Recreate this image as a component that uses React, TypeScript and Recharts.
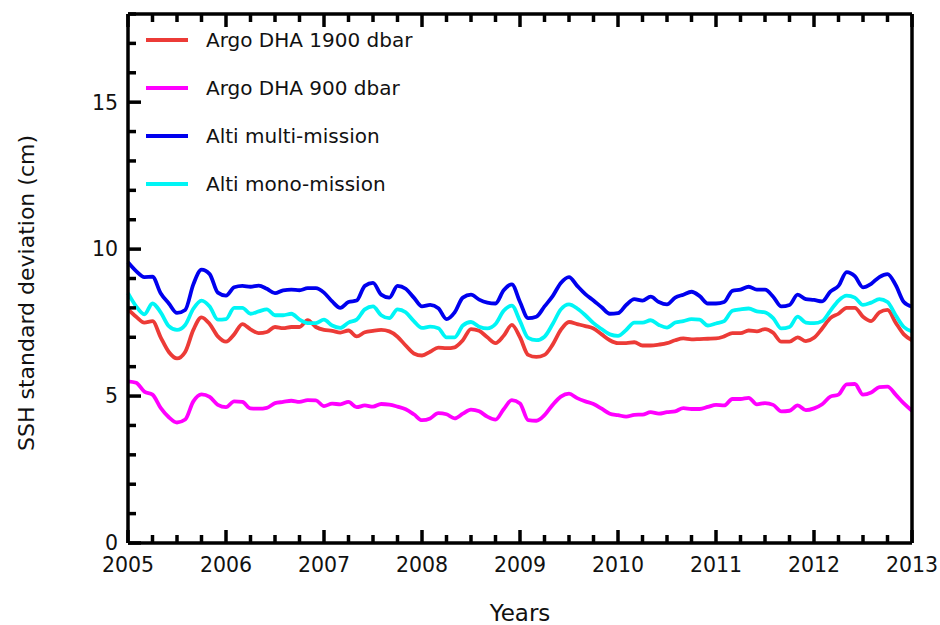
import { Label, Legend, Line, LineChart, XAxis, YAxis } from 'recharts'

const FONT = '"DejaVu Sans", sans-serif'

// monthly samples, Jan 2005 .. Jan 2013
const startYear = 2005

const argo1900 = [
  7.95, 7.7, 7.5, 7.55, 7.0, 6.5, 6.28, 6.5, 7.25, 7.68, 7.45, 7.03,
  6.85, 7.1, 7.45, 7.27, 7.14, 7.18, 7.35, 7.31, 7.35, 7.35, 7.58, 7.35,
  7.25, 7.22, 7.16, 7.23, 7.03, 7.17, 7.22, 7.25, 7.2, 7.02, 6.72, 6.45,
  6.38, 6.51, 6.65, 6.63, 6.66, 6.9, 7.28, 7.22, 7.0, 6.8, 7.05, 7.42,
  7.0, 6.4, 6.33, 6.4, 6.75, 7.25, 7.52, 7.45, 7.38, 7.3, 7.1, 6.9,
  6.8, 6.8, 6.83, 6.72, 6.72, 6.75, 6.8, 6.9, 6.96, 6.93, 6.94, 6.95,
  6.96, 7.03, 7.14, 7.14, 7.23, 7.2, 7.28, 7.15, 6.85, 6.85, 7.0, 6.87,
  6.98, 7.3, 7.65, 7.8, 8.0, 8.0, 7.7, 7.55, 7.85, 7.93, 7.5, 7.1,
  6.9,
]

const argo900 = [
  5.5, 5.45, 5.15, 5.05, 4.6, 4.28, 4.1, 4.2, 4.82, 5.06, 4.97, 4.7,
  4.62, 4.82, 4.8, 4.58, 4.57, 4.6, 4.76, 4.8, 4.84, 4.8, 4.86, 4.85,
  4.66, 4.74, 4.72, 4.8, 4.62, 4.68, 4.64, 4.73, 4.71, 4.64, 4.55, 4.38,
  4.18, 4.24, 4.42, 4.38, 4.24, 4.4, 4.54, 4.48, 4.3, 4.2, 4.55, 4.86,
  4.75, 4.18, 4.16, 4.35, 4.7, 4.98, 5.08, 4.93, 4.82, 4.73, 4.57, 4.4,
  4.35, 4.3, 4.36, 4.37, 4.45, 4.4, 4.45, 4.48, 4.59, 4.56, 4.56, 4.63,
  4.7, 4.68, 4.9, 4.9, 4.94, 4.72, 4.76, 4.7, 4.48, 4.5, 4.68, 4.52,
  4.58, 4.72, 4.98, 5.05, 5.4, 5.41, 5.05, 5.12, 5.3, 5.32, 5.05, 4.75,
  4.5,
]

const altiMulti = [
  9.55, 9.25, 9.05, 9.06, 8.5, 8.15, 7.83, 7.93, 8.8, 9.3, 9.15, 8.52,
  8.42, 8.7, 8.75, 8.72, 8.76, 8.65, 8.5, 8.6, 8.62, 8.6, 8.67, 8.67,
  8.52, 8.22, 8.0, 8.2, 8.25, 8.75, 8.85, 8.45, 8.35, 8.75, 8.65, 8.35,
  8.05, 8.1, 7.99, 7.62, 7.85, 8.35, 8.45, 8.28, 8.18, 8.15, 8.6, 8.8,
  8.2, 7.65, 7.7, 8.05, 8.4, 8.85, 9.05, 8.75, 8.47, 8.25, 8.02, 7.8,
  7.82, 8.1, 8.3, 8.25, 8.38, 8.2, 8.12, 8.35, 8.45, 8.55, 8.4, 8.15,
  8.15, 8.2, 8.58, 8.62, 8.72, 8.62, 8.62, 8.38, 8.05, 8.1, 8.45, 8.3,
  8.27, 8.22, 8.55, 8.75, 9.22, 9.08, 8.7, 8.82, 9.05, 9.15, 8.78, 8.2,
  8.04,
]

const altiMono = [
  8.5, 8.05, 7.78, 8.15, 7.85, 7.38, 7.25, 7.42, 7.97, 8.25, 8.05, 7.6,
  7.62, 8.0, 8.0, 7.8, 7.88, 7.95, 7.75, 7.75, 7.8, 7.6, 7.48, 7.48,
  7.6, 7.4, 7.32, 7.5, 7.6, 7.95, 8.05, 7.75, 7.65, 7.95, 7.85, 7.55,
  7.32, 7.36, 7.31, 7.0, 7.0, 7.4, 7.52, 7.36, 7.3, 7.45, 7.9, 8.08,
  7.55, 6.98, 6.9, 7.02, 7.45, 7.95, 8.12, 7.98, 7.75, 7.48, 7.28, 7.1,
  7.05, 7.25, 7.5, 7.5, 7.58, 7.42, 7.33, 7.5, 7.55, 7.62, 7.6, 7.4,
  7.47, 7.55, 7.9, 7.95, 7.98, 7.88, 7.85, 7.65, 7.3, 7.35, 7.7, 7.5,
  7.48, 7.55, 7.9, 8.25, 8.42, 8.35, 8.1, 8.18, 8.3, 8.2, 7.75, 7.35,
  7.2,
]

const yearTicks = [2005, 2006, 2007, 2008, 2009, 2010, 2011, 2012, 2013]
const xTicks = yearTicks.flatMap((y, i) =>
  i === yearTicks.length - 1 ? [y] : [y, y + 0.25, y + 0.5, y + 0.75]
)
const yTicks = [0, 1, 2, 3, 4, 5, 6, 7, 8, 9, 10, 11, 12, 13, 14, 15, 16, 17, 18]

const series = [
  { key: 'argo1900', name: 'Argo DHA 1900 dbar', color: '#ec3b37' },
  { key: 'argo900', name: 'Argo DHA 900 dbar', color: '#ff00ff' },
  { key: 'altiMulti', name: 'Alti multi-mission', color: '#0000ee' },
  { key: 'altiMono', name: 'Alti mono-mission', color: '#00f5f5' },
]

const data = argo1900.map((v, i) => ({
  t: startYear + i / 12,
  argo1900: v,
  argo900: argo900[i],
  altiMulti: altiMulti[i],
  altiMono: altiMono[i],
}))

const isMajorX = (v: number) => Number.isInteger(v)
const isMajorY = (v: number) => v % 5 === 0
const TICK_W = 3.5

function BottomTick({ x, y, payload }: any) {
  const major = isMajorX(payload.value)
  return (
    <g>
      <line x1={x} x2={x} y1={y} y2={y - (major ? 13 : 8)} stroke="#000" strokeWidth={TICK_W} />
      {major && (
        <text x={x} y={y + 29} textAnchor="middle" fontSize={20.5} fontFamily={FONT} fill="#111">
          {payload.value}
        </text>
      )}
    </g>
  )
}

function TopTick({ x, y, payload }: any) {
  const major = isMajorX(payload.value)
  return <line x1={x} x2={x} y1={y} y2={y + (major ? 13 : 8)} stroke="#000" strokeWidth={TICK_W} />
}

function LeftTick({ x, y, payload }: any) {
  const major = isMajorY(payload.value)
  return (
    <g>
      <line x1={x} x2={x + (major ? 13 : 8)} y1={y} y2={y} stroke="#000" strokeWidth={TICK_W} />
      {major && (
        <text x={x - 10} y={y} dy="0.36em" textAnchor="end" fontSize={20.5} fontFamily={FONT} fill="#111">
          {payload.value}
        </text>
      )}
    </g>
  )
}

function RightTick({ x, y, payload }: any) {
  const major = isMajorY(payload.value)
  return <line x1={x} x2={x - (major ? 13 : 8)} y1={y} y2={y} stroke="#000" strokeWidth={TICK_W} />
}

const renderLegend = () => (
  <div style={{ fontFamily: FONT, fontSize: 20, color: '#111' }}>
    {series.map((s) => (
      <div key={s.key} style={{ display: 'flex', alignItems: 'center', height: 48 }}>
        <span style={{ display: 'inline-block', width: 42, height: 3.8, background: s.color, marginRight: 18 }} />
        <span>{s.name}</span>
      </div>
    ))}
  </div>
)

const axisLine = { stroke: '#000', strokeWidth: 3.5 }

export default function App() {
  return (
    <div style={{ position: 'absolute', left: 0, top: 0, width: 940, height: 625, background: '#fff' }}>
      <LineChart width={940} height={625} data={data} margin={{ top: 13, right: 0, bottom: 52, left: 68 }}>
        <XAxis
          xAxisId="bottom"
          dataKey="t"
          type="number"
          domain={[2005, 2013]}
          ticks={xTicks}
          interval={0}
          height={30}
          tickSize={0}
          tickMargin={0}
          axisLine={axisLine}
          tickLine={false}
          tick={<BottomTick />}
        >
          <Label
            content={() => (
              <text x={520} y={621} textAnchor="middle" fontSize={23} fontFamily={FONT} fill="#111">
                Years
              </text>
            )}
          />
        </XAxis>
        <XAxis
          xAxisId="top"
          orientation="top"
          dataKey="t"
          type="number"
          domain={[2005, 2013]}
          ticks={xTicks}
          interval={0}
          height={1}
          tickSize={0}
          tickMargin={0}
          axisLine={axisLine}
          tickLine={false}
          tick={<TopTick />}
        />
        <YAxis
          yAxisId="left"
          type="number"
          domain={[0, 18]}
          ticks={yTicks}
          interval={0}
          width={60}
          tickSize={0}
          tickMargin={0}
          axisLine={axisLine}
          tickLine={false}
          tick={<LeftTick />}
        >
          <Label
            content={() => (
              <text
                x={34}
                y={293}
                transform="rotate(-90, 34, 293)"
                textAnchor="middle"
                fontSize={22}
                fontFamily={FONT}
                fill="#111"
              >
                SSH standard deviation (cm)
              </text>
            )}
          />
        </YAxis>
        <YAxis
          yAxisId="right"
          orientation="right"
          type="number"
          domain={[0, 18]}
          ticks={yTicks}
          interval={0}
          width={28}
          tickSize={0}
          tickMargin={0}
          axisLine={axisLine}
          tickLine={false}
          tick={<RightTick />}
        />
        <Legend
          layout="vertical"
          align="center"
          verticalAlign="middle"
          content={renderLegend}
          wrapperStyle={{ left: 146, top: 16, width: 340 }}
        />
        {series.map((s) => (
          <Line
            key={s.key}
            xAxisId="bottom"
            yAxisId="left"
            type="monotone"
            dataKey={s.key}
            name={s.name}
            stroke={s.color}
            strokeWidth={3.8}
            strokeLinejoin="round"
            dot={false}
            activeDot={false}
            isAnimationActive={false}
          />
        ))}
      </LineChart>
    </div>
  )
}
